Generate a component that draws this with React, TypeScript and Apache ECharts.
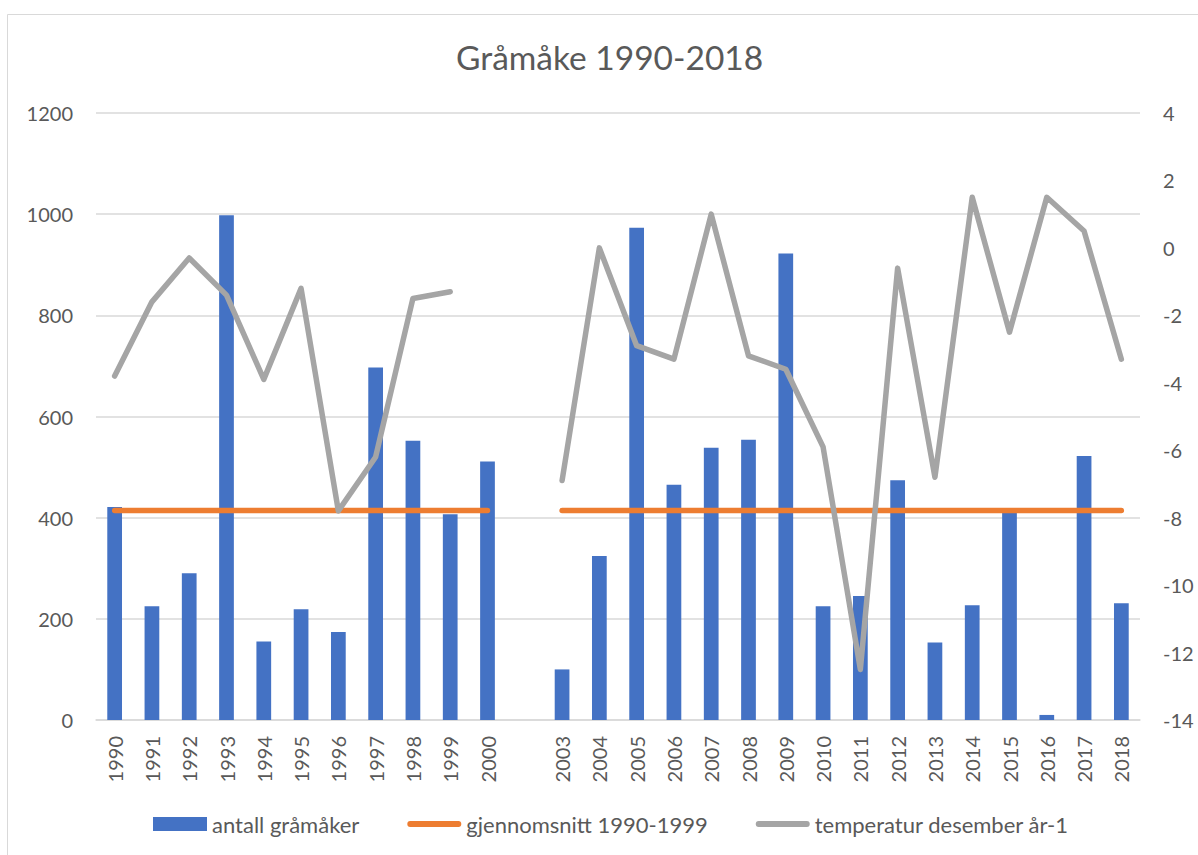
import React, { useEffect, useRef } from "react";
import * as echarts from "echarts";

const categories = [
  "1990", "1991", "1992", "1993", "1994", "1995", "1996", "1997", "1998", "1999", "2000",
  "",
  "2003", "2004", "2005", "2006", "2007", "2008", "2009", "2010", "2011", "2012",
  "2013", "2014", "2015", "2016", "2017", "2018",
];

const birdCounts = [
  421, 225, 290, 998, 155, 219, 174, 697, 552, 407, 511,
  null,
  100, 324, 973, 465, 538, 554, 922, 225, 245, 474, 153, 227, 410, 10, 522, 231,
];

const averageValues = [
  414, 414, 414, 414, 414, 414, 414, 414, 414, 414, 414,
  null,
  414, 414, 414, 414, 414, 414, 414, 414, 414, 414, 414, 414, 414, 414, 414, 414,
];

const decemberTemps = [
  -3.8, -1.6, -0.3, -1.4, -3.9, -1.2, -7.8, -6.2, -1.5, -1.3, null,
  null,
  -6.9, 0.0, -2.9, -3.3, 1.0, -3.2, -3.6, -5.9, -12.5, -0.6, -6.8, 1.5, -2.5, 1.5, 0.5, -3.3,
];

const seriesNames = ["antall gråmåker", "gjennomsnitt 1990-1999", "temperatur desember år-1"];
const titleText = "Gråmåke 1990-2018";

const FONT = "Lato";
const TEXT = "#595959";
const GRID = "#d9d9d9";
const LINE_ICON = "path://M3,0L53,0A3,3,0,0,1,53,6L3,6A3,3,0,0,1,3,0Z";

export default function App() {
  const ref = useRef<HTMLDivElement>(null);
  useEffect(() => {
    if (!ref.current) return;
    const chart = echarts.init(ref.current, null, { renderer: "svg" });
    chart.setOption({
      animation: false,
      backgroundColor: "#ffffff",
      textStyle: { fontFamily: FONT, color: TEXT },
      title: {
        text: titleText,
        left: 451,
        top: 35,
        textStyle: { fontFamily: FONT, fontSize: 33.5, fontWeight: "normal", color: TEXT },
      },
      graphic: [
        {
          type: "rect",
          shape: { x: 7.5, y: 14.5, width: 1300, height: 1000 },
          style: { fill: "none", stroke: GRID, lineWidth: 1 },
          silent: true,
          z: -10,
        },
      ],
      legend: {
        left: 153,
        top: 813,
        padding: 0,
        itemWidth: 54,
        itemHeight: 14,
        itemGap: 48,
        itemStyle: { borderWidth: 0 },
        textStyle: { fontFamily: FONT, fontSize: 22, color: TEXT, lineHeight: 22 },
        data: [
          { name: seriesNames[0], icon: "rect", itemStyle: { color: "#4472C4", borderWidth: 0 } },
          { name: seriesNames[1], icon: LINE_ICON, itemStyle: { color: "#ED7D31", borderWidth: 0 } },
          { name: seriesNames[2], icon: LINE_ICON, itemStyle: { color: "#A5A5A5", borderWidth: 0 } },
        ],
      },
      grid: { left: 96, right: 58, top: 113, bottom: 135, containLabel: false },
      xAxis: {
        type: "category",
        data: categories,
        axisLine: { show: true, lineStyle: { color: GRID, width: 1.5 } },
        axisTick: { show: false },
        axisLabel: {
          rotate: 90,
          interval: 0,
          margin: 16,
          fontFamily: FONT,
          fontSize: 20,
          color: TEXT,
        },
      },
      yAxis: [
        {
          type: "value",
          min: 0,
          max: 1200,
          interval: 200,
          axisLine: { show: false },
          axisTick: { show: false },
          splitLine: { show: true, lineStyle: { color: GRID, width: 1.5 } },
          axisLabel: {
            margin: 23,
            fontFamily: FONT,
            fontSize: 20,
            color: TEXT,
            formatter: (v: number) => String(v),
          },
        },
        {
          type: "value",
          min: -14,
          max: 4,
          interval: 2,
          position: "right",
          axisLine: { show: false },
          axisTick: { show: false },
          splitLine: { show: false },
          axisLabel: {
            margin: 23,
            fontFamily: FONT,
            fontSize: 20,
            color: TEXT,
            formatter: (v: number) => String(v),
          },
        },
      ],
      series: [
        {
          name: seriesNames[0],
          type: "bar",
          data: birdCounts,
          yAxisIndex: 0,
          barWidth: "39.5%",
          itemStyle: { color: "#4472C4" },
          z: 2,
        },
        {
          name: seriesNames[1],
          type: "line",
          data: averageValues,
          yAxisIndex: 0,
          symbol: "none",
          connectNulls: false,
          itemStyle: { color: "#ED7D31" },
          lineStyle: { color: "#ED7D31", width: 5.5, cap: "round", join: "round" },
          z: 3,
        },
        {
          name: seriesNames[2],
          type: "line",
          data: decemberTemps,
          yAxisIndex: 1,
          symbol: "none",
          connectNulls: false,
          itemStyle: { color: "#A5A5A5" },
          lineStyle: { color: "#A5A5A5", width: 5.5, cap: "round", join: "round" },
          z: 4,
        },
      ],
    });
    return () => chart.dispose();
  }, []);
  return (
    <div
      ref={ref}
      style={{ position: "fixed", left: 0, top: 0, width: 1198, height: 855, background: "#fff" }}
    />
  );
}
